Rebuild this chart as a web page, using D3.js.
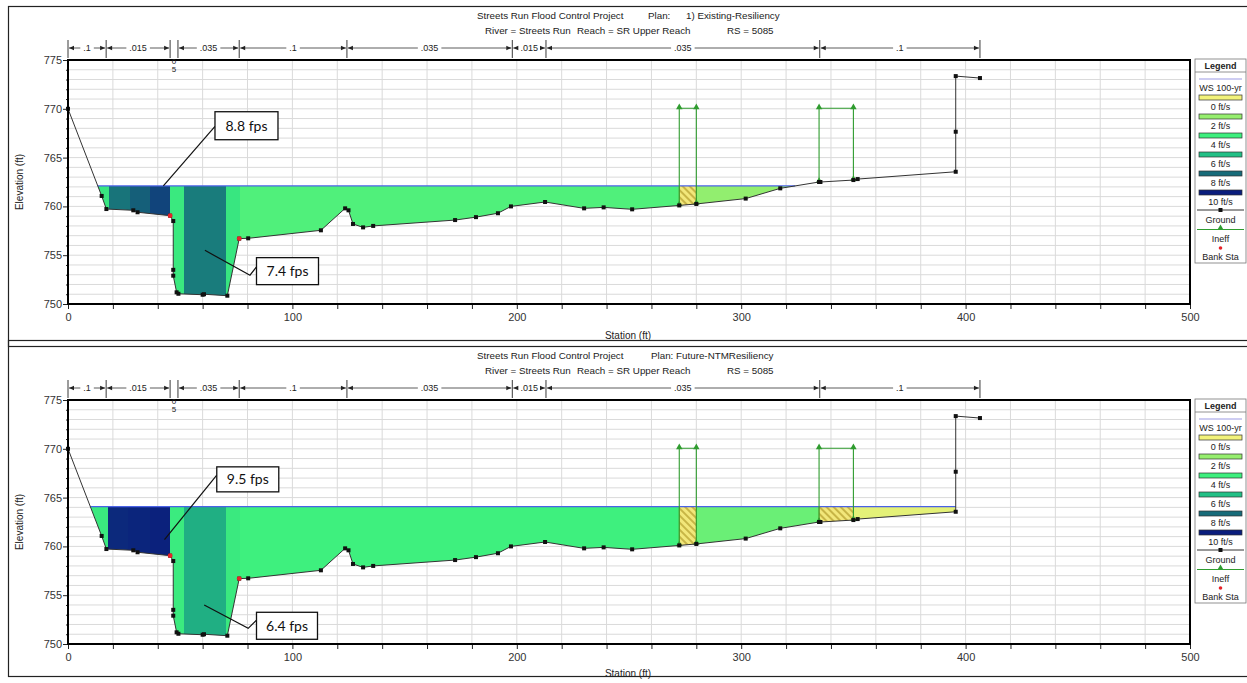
<!DOCTYPE html>
<html>
<head>
<meta charset="utf-8">
<style>
body { margin: 0; background: #fff; }
text { font-family: "Liberation Sans", Arial, sans-serif; fill: #222; }
.grid line { stroke: #dadada; stroke-width: 1; }
.axis text { font-size: 11px; fill: #333; }
.axis line { stroke: #222; }
.axis path { display: none; }
.call text { font-family: Lato, "Open Sans", sans-serif; font-size: 14px; fill: #111; }
</style>
</head>
<body>
<svg width="1247" height="683"></svg>
<script src="https://cdn.jsdelivr.net/npm/d3@7/dist/d3.min.js"></script>
<script>
// ground survey points (station ft, elevation ft)
var groundSta  = [0, 15.0, 17.1, 29.1, 31.0, 45.5, 46.9, 46.9, 46.9, 48.4, 49.2, 60.0, 60.6, 71.0, 76.3, 80.3, 112.7,
                  123.5, 125.0, 127.0, 131.5, 136.0, 172.5, 181.8, 191.6, 197.4, 212.6, 230.0, 238.7, 251.4, 272.4, 280.0,
                  302.0, 317.4, 334.7, 335.3, 350.0, 351.9, 395.6, 395.6, 395.6, 406.4];
var groundElev = [770, 761.07, 759.73, 759.6, 759.4, 759.05, 758.5, 753.5, 752.9, 751.2, 751.05, 750.95, 751.0, 750.85, 756.7, 756.73, 757.55,
                  759.8, 759.6, 758.2, 757.85, 758.0, 758.6, 758.9, 759.3, 760.0, 760.45, 759.8, 759.9, 759.7, 760.1, 760.25,
                  760.8, 761.85, 762.5, 762.5, 762.7, 762.8, 763.55, 767.65, 773.35, 773.15];
var bankSta  = [45.5, 76.3];
var bankElev = [759.05, 756.7];

// ineffective flow areas [left sta, right sta, elevation]
var ineffAreas = [[272.4, 280.0, 770.05], [334.7, 350.0, 770.05]];

// manning's n breaks
var nSta = [0, 17, 45.5, 49, 76.3, 124.3, 198, 213, 335, 406.4];
var nVal = [".1", ".015", ".05", ".035", ".1", ".035", ".015", ".035", ".1"];

// velocity legend
var legendVel    = [0, 2, 4, 6, 8, 10];
var legendColors = ["#f2f27a", "#96ee6e", "#3ef07e", "#22c086", "#176b79", "#0a1d7c"];

// plan 1: existing
var wsTop = 762.1;
var sliceEdgesTop = [5, 18.3, 27.6, 36.5, 45.5, 51.7, 70.3, 76.6, 272.4, 280, 340];
var sliceVelTop   = [4.4, 7.8, 8.3, 9.0, 4.3, 7.6, 4.4, 3.6, null, 2.1];

// plan 2: future
var wsBot = 764.07;
var sliceEdgesBot = [5, 18.0, 26.9, 36.5, 45.5, 51.7, 70.3, 76.6, 272.4, 280, 334.7, 350, 400];
var sliceVelBot   = [4.3, 9.7, 9.8, 9.9, 4.2, 6.4, 4.3, 4.0, null, 3.0, null, 0.3];

var xTicks = d3.range(0, 501, 20);
var yTicks = d3.range(750, 776, 1);

var svg = d3.select("svg");
var x = d3.scaleLinear().domain([0, 500]).range([68, 1190]);
var color = d3.scaleLinear().domain(legendVel).range(legendColors);

var defs = svg.append("defs");
var pat = defs.append("pattern")
    .attr("id", "hatch")
    .attr("patternUnits", "userSpaceOnUse")
    .attr("width", 5).attr("height", 5)
    .attr("patternTransform", "rotate(-45)");
pat.append("rect").attr("width", 5).attr("height", 5).attr("fill", "#f2e77a");
pat.append("line").attr("x1", 1).attr("y1", 0).attr("x2", 1).attr("y2", 5)
    .attr("stroke", "#b09a2a").attr("stroke-width", 1.3);

function groundAt(s) {
  for (var i = 0; i < groundSta.length - 1; i++) {
    var a = groundSta[i], b = groundSta[i + 1];
    if (s >= a && s <= b && b > a) {
      return groundElev[i] + (groundElev[i + 1] - groundElev[i]) * (s - a) / (b - a);
    }
  }
  return groundElev[groundElev.length - 1];
}

function waterOutline(ws) {
  var n = groundSta.length, li = -1, ri = -1;
  for (var i = 0; i < n - 1; i++) {
    if (li < 0 && groundElev[i] >= ws && groundElev[i + 1] < ws) li = i;
    if (groundElev[i] < ws && groundElev[i + 1] >= ws) ri = i;
  }
  function cross(i) {
    var t = (ws - groundElev[i]) / (groundElev[i + 1] - groundElev[i]);
    return groundSta[i] + t * (groundSta[i + 1] - groundSta[i]);
  }
  var pts = [[cross(li), ws]];
  for (var j = li + 1; j <= ri; j++) pts.push([groundSta[j], groundElev[j]]);
  pts.push([cross(ri), ws]);
  return pts;
}

var panels = [
  { off: 0, ws: wsTop, edges: sliceEdgesTop, vels: sliceVelTop,
    title1: [[477, "Streets Run Flood Control Project"], [648, "Plan:"], [686, "1) Existing-Resiliency"]],
    calls: [
      { text: "8.8 fps", sta: 65.5, elev: 769.7, w: 63, h: 28, path: [[65.5, 768.2], [42.5, 762.1]] },
      { text: "7.4 fps", sta: 84.0, elev: 754.75, w: 62, h: 27, path: [[61.0, 755.5], [81.1, 752.95], [84.0, 753.8]] }
    ] },
  { off: 340, ws: wsBot, edges: sliceEdgesBot, vels: sliceVelBot,
    title1: [[477, "Streets Run Flood Control Project"], [651, "Plan: Future-NTMResiliency"]],
    calls: [
      { text: "9.5 fps", sta: 66.3, elev: 768.15, w: 62, h: 25, path: [[66.3, 767.3], [43.0, 760.7]] },
      { text: "6.4 fps", sta: 84.0, elev: 753.25, w: 61, h: 27, path: [[60.7, 754.0], [80.3, 751.6], [84.0, 752.45]] }
    ] }
];

panels.forEach(function(p, pi) {
  var g = svg.append("g");
  var top = 60 + p.off, bot = 304 + p.off;
  var y = d3.scaleLinear().domain([750, 775]).range([bot, top]);

  // frame
  g.append("rect").attr("x", 8.5).attr("y", 6.5 + p.off - (pi ? 6 : 0))
      .attr("width", 1240).attr("height", pi ? 336 : 340)
      .attr("fill", "none").attr("stroke", "#222").attr("stroke-width", 1.2);

  // titles
  p.title1.forEach(function(t) {
    g.append("text").attr("x", t[0]).attr("y", 19 + p.off).attr("font-size", 9.8).text(t[1]);
  });
  [[485, "River = Streets Run"], [577, "Reach = SR Upper Reach"], [727, "RS = 5085"]].forEach(function(t) {
    g.append("text").attr("x", t[0]).attr("y", 34 + p.off).attr("font-size", 9.8).text(t[1]);
  });

  // grid
  var grid = g.append("g").attr("class", "grid");
  grid.selectAll(".v").data(xTicks.slice(1, -1)).enter().append("line")
      .attr("x1", function(d) { return x(d); }).attr("x2", function(d) { return x(d); })
      .attr("y1", top).attr("y2", bot);
  grid.selectAll(".h").data(yTicks.slice(1, -1)).enter().append("line")
      .attr("x1", x(0)).attr("x2", x(500))
      .attr("y1", function(d) { return y(d); }).attr("y2", function(d) { return y(d); });

  // water fill, sliced by velocity
  var outline = waterOutline(p.ws);
  var clipId = "water" + pi;
  defs.append("clipPath").attr("id", clipId).append("path")
      .attr("d", d3.line().x(function(d) { return x(d[0]); }).y(function(d) { return y(d[1]); })(outline) + "Z");
  var wg = g.append("g").attr("clip-path", "url(#" + clipId + ")");
  wg.selectAll("rect").data(p.vels).enter().append("rect")
      .attr("x", function(d, i) { return x(p.edges[i]); })
      .attr("width", function(d, i) { return x(p.edges[i + 1]) - x(p.edges[i]); })
      .attr("y", top).attr("height", bot - top)
      .attr("fill", function(d) { return d === null ? "url(#hatch)" : color(d); })
      .attr("shape-rendering", "crispEdges");
  // hatched boxes outline
  p.vels.forEach(function(d, i) {
    if (d === null) {
      wg.append("rect").attr("x", x(p.edges[i])).attr("width", x(p.edges[i + 1]) - x(p.edges[i]))
          .attr("y", top).attr("height", bot - top)
          .attr("fill", "none").attr("stroke", "#9a9a30").attr("stroke-width", 0.8);
    }
  });

  // water surface
  g.append("line").attr("x1", x(outline[0][0])).attr("x2", x(outline[outline.length - 1][0]))
      .attr("y1", y(p.ws)).attr("y2", y(p.ws))
      .attr("stroke", "#4a62e6").attr("stroke-width", 1.3);

  // ineffective areas
  ineffAreas.forEach(function(a) {
    var pts = [[a[0], groundAt(a[0])], [a[0], a[2]], [a[1], a[2]], [a[1], groundAt(a[1])]];
    g.append("path")
        .attr("d", d3.line().x(function(d) { return x(d[0]); }).y(function(d) { return y(d[1]); })(pts))
        .attr("fill", "none").attr("stroke", "#2f9c2f").attr("stroke-width", 1.1);
    pts.forEach(function(q) {
      g.append("path").attr("d", d3.symbol(d3.symbolTriangle, 18)())
          .attr("transform", "translate(" + x(q[0]) + "," + (y(q[1]) - 1) + ")")
          .attr("fill", "#2f9c2f");
    });
  });

  // ground
  var gl = groundSta.map(function(s, i) { return [s, groundElev[i]]; });
  g.append("path")
      .attr("d", d3.line().x(function(d) { return x(d[0]); }).y(function(d) { return y(d[1]); })(gl))
      .attr("fill", "none").attr("stroke", "#333").attr("stroke-width", 1);
  g.selectAll(".gp").data(gl).enter().append("rect")
      .attr("x", function(d) { return x(d[0]) - 2; }).attr("y", function(d) { return y(d[1]) - 2; })
      .attr("width", 4).attr("height", 4).attr("fill", "#111");
  g.selectAll(".bk").data(bankSta).enter().append("circle")
      .attr("cx", function(d) { return x(d); })
      .attr("cy", function(d, i) { return y(bankElev[i]); })
      .attr("r", 2.4).attr("fill", "#e8232a");

  // axes
  g.append("g").attr("class", "axis").attr("transform", "translate(0," + bot + ")")
      .call(d3.axisBottom(x).tickValues(xTicks).tickSize(5).tickPadding(4)
      .tickFormat(function(d) { return d % 100 === 0 ? d : ""; }));
  var ya = g.append("g").attr("class", "axis").attr("transform", "translate(" + x(0) + ",0)")
      .call(d3.axisLeft(y).tickValues(yTicks).tickSize(2).tickPadding(4)
      .tickFormat(function(d) { return d % 5 === 0 ? d : ""; }));
  ya.selectAll(".tick line").attr("x2", function(d) { return d % 5 === 0 ? -5 : -2; });

  g.append("rect").attr("x", x(0)).attr("y", top).attr("width", x(500) - x(0)).attr("height", bot - top)
      .attr("fill", "none").attr("stroke", "#000").attr("stroke-width", 2);

  g.append("text").attr("x", 628).attr("y", (pi ? 337 : 339) + p.off).attr("text-anchor", "middle")
      .attr("font-size", 10).text("Station (ft)");
  g.append("text").attr("transform", "translate(23," + (182 + p.off) + ") rotate(-90)")
      .attr("text-anchor", "middle").attr("font-size", 10).text("Elevation (ft)");

  // manning's n bar
  var nY = 48 + p.off;
  var nb = g.append("g");
  nSta.forEach(function(s) {
    nb.append("line").attr("x1", x(s)).attr("x2", x(s)).attr("y1", nY - 8).attr("y2", nY + 10)
        .attr("stroke", "#222").attr("stroke-width", 0.9);
  });
  nVal.forEach(function(v, i) {
    var x0 = x(nSta[i]) + 1, x1 = x(nSta[i + 1]) - 1, mid = (x0 + x1) / 2;
    if (x1 - x0 > 20) {
      var t = nb.append("text").attr("x", mid).attr("y", nY + 3).attr("text-anchor", "middle")
          .attr("font-size", 9).text(v);
      var tw = t.node().getComputedTextLength();
      nb.append("line").attr("x1", x0).attr("x2", mid - tw / 2 - 3).attr("y1", nY).attr("y2", nY)
          .attr("stroke", "#333").attr("stroke-width", 0.8);
      nb.append("line").attr("x1", mid + tw / 2 + 3).attr("x2", x1).attr("y1", nY).attr("y2", nY)
          .attr("stroke", "#333").attr("stroke-width", 0.8);
      nb.append("path").attr("d", "M" + x0 + "," + nY + "l5,-2.2v4.4z").attr("fill", "#222");
      nb.append("path").attr("d", "M" + x1 + "," + nY + "l-5,-2.2v4.4z").attr("fill", "#222");
    } else {
      v.replace(".", "").split("").forEach(function(c, k) {
        nb.append("text").attr("x", mid).attr("y", nY + 16 + k * 8).attr("text-anchor", "middle")
            .attr("font-size", 8).text(c);
      });
    }
  });

  // callouts
  var cg = g.append("g").attr("class", "call");
  p.calls.forEach(function(c) {
    cg.append("path")
        .attr("d", d3.line().x(function(d) { return x(d[0]); }).y(function(d) { return y(d[1]); })(c.path))
        .attr("fill", "none").attr("stroke", "#111").attr("stroke-width", 1.2);
    cg.append("rect").attr("x", x(c.sta)).attr("y", y(c.elev)).attr("width", c.w).attr("height", c.h)
        .attr("fill", "#fff").attr("stroke", "#111").attr("stroke-width", 1.3);
    cg.append("text").attr("x", x(c.sta) + c.w / 2).attr("y", y(c.elev) + c.h / 2 + 5)
        .attr("text-anchor", "middle").text(c.text);
  });

  // legend
  var lg = g.append("g").attr("transform", "translate(1195," + (59 + p.off) + ")");
  lg.append("rect").attr("width", 51).attr("height", 204).attr("fill", "#fff")
      .attr("stroke", "#777").attr("stroke-width", 0.8);
  lg.append("line").attr("x1", 0).attr("x2", 51).attr("y1", 13).attr("y2", 13).attr("stroke", "#777").attr("stroke-width", 0.8);
  lg.append("text").attr("x", 25.5).attr("y", 10).attr("text-anchor", "middle")
      .attr("font-size", 9).attr("font-weight", "bold").text("Legend");
  lg.append("line").attr("x1", 4).attr("x2", 47).attr("y1", 20).attr("y2", 20)
      .attr("stroke", "#9d9ce6").attr("stroke-width", 1.2);
  lg.append("text").attr("x", 25.5).attr("y", 32).attr("text-anchor", "middle").attr("font-size", 9).text("WS 100-yr");
  legendVel.forEach(function(v, i) {
    var yy = 36 + i * 19;
    lg.append("rect").attr("x", 4).attr("y", yy).attr("width", 43).attr("height", 5)
        .attr("fill", color(v)).attr("stroke", "#333").attr("stroke-width", 0.7);
    lg.append("text").attr("x", 25.5).attr("y", yy + 15).attr("text-anchor", "middle")
        .attr("font-size", 9).text(v + " ft/s");
  });
  lg.append("line").attr("x1", 2).attr("x2", 49).attr("y1", 151).attr("y2", 151).attr("stroke", "#333");
  lg.append("rect").attr("x", 23.5).attr("y", 149).attr("width", 4).attr("height", 4).attr("fill", "#111");
  lg.append("text").attr("x", 25.5).attr("y", 164).attr("text-anchor", "middle").attr("font-size", 9).text("Ground");
  lg.append("line").attr("x1", 2).attr("x2", 49).attr("y1", 170.5).attr("y2", 170.5).attr("stroke", "#2f9c2f");
  lg.append("path").attr("d", d3.symbol(d3.symbolTriangle, 16)()).attr("transform", "translate(25.5,169)").attr("fill", "#2f9c2f");
  lg.append("text").attr("x", 25.5).attr("y", 183).attr("text-anchor", "middle").attr("font-size", 9).text("Ineff");
  lg.append("circle").attr("cx", 25.5).attr("cy", 189).attr("r", 1.8).attr("fill", "#e8232a");
  lg.append("text").attr("x", 25.5).attr("y", 201).attr("text-anchor", "middle").attr("font-size", 9).text("Bank Sta");
});
</script>
</body>
</html>
